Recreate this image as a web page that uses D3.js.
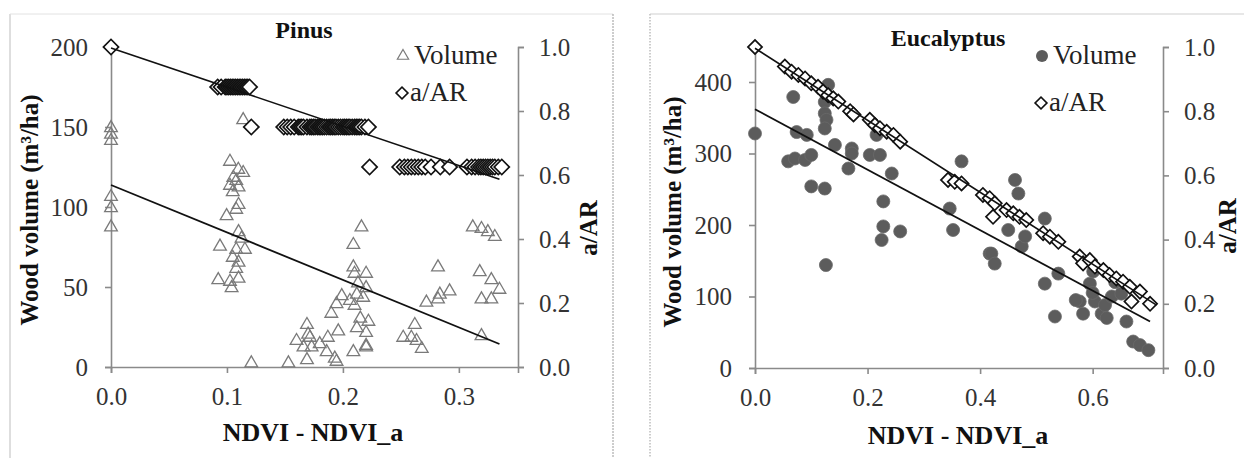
<!DOCTYPE html>
<html>
<head>
<meta charset="utf-8">
<script src="https://cdn.jsdelivr.net/npm/d3@7"></script>
<style>
  body { margin: 0; background: #fff; }
  svg text { font-family: "Liberation Serif", "LiberationSerif", "Tinos", "Times New Roman", Times, "DejaVu Serif", serif !important; }
</style>
</head>
<body>
<svg id="chart" width="1244" height="458"></svg>
<script>
// ---- Pinus ----
const pinusVolX = [0, 0, 0, 0, 0, 0,
  0.1026, 0.1098, 0.114, 0.1055, 0.108, 0.1026, 0.11, 0.105, 0.11, 0.108, 0.0997, 0.11, 0.1126, 0.094,
  0.108, 0.1155, 0.105, 0.11, 0.108, 0.0925, 0.1026, 0.11, 0.104, 0.114, 0.121,
  0.153, 0.16, 0.169, 0.17, 0.166, 0.173, 0.169, 0.1716, 0.18, 0.187, 0.186, 0.193, 0.1945, 0.196,
  0.19, 0.1945, 0.199, 0.206, 0.209, 0.21, 0.209, 0.216, 0.213, 0.22, 0.22, 0.212, 0.2175, 0.21,
  0.215, 0.222, 0.212, 0.22, 0.209, 0.22, 0.22,
  0.312, 0.3195, 0.325, 0.331, 0.282, 0.318, 0.328, 0.335, 0.292, 0.2836, 0.282, 0.272, 0.3195, 0.328,
  0.262, 0.252, 0.259, 0.2635, 0.268, 0.3195];
const pinusVolY = [150, 146, 142, 107, 100, 88,
  129, 124, 122, 119, 117, 114, 113, 110, 102, 99, 95, 85, 81, 76,
  74, 74, 69, 66, 62, 55, 54, 56, 50, 155, 3,
  3, 17, 27, 21, 13, 13, 5, 19, 15, 19, 10, 6, 4, 23,
  34, 40, 45, 42, 63, 59, 77, 88, 53, 59, 50, 46, 44, 39,
  31, 29, 25, 22, 10, 14, 13,
  88, 87, 85, 82, 63, 60, 55, 49, 48, 46, 43, 41, 43, 43,
  27, 19, 19, 17, 12, 20];
const pinusRatioX = [0,
  0.092, 0.095, 0.0985, 0.100, 0.1015, 0.103, 0.1045, 0.106, 0.1075, 0.109, 0.1105, 0.112, 0.1135, 0.115, 0.1165, 0.118, 0.1195,
  0.121, 0.149, 0.152, 0.155, 0.158, 0.1615, 0.163, 0.1645, 0.166, 0.169, 0.1715, 0.173, 0.1745, 0.176, 0.178,
  0.1795, 0.181, 0.1825, 0.184, 0.186, 0.188, 0.1895, 0.191, 0.1925, 0.194, 0.196, 0.198, 0.2,
  0.2015, 0.203, 0.2045, 0.206, 0.208, 0.21, 0.2115, 0.213, 0.2145, 0.216, 0.219, 0.222,
  0.223, 0.249, 0.253, 0.256, 0.259, 0.262, 0.265, 0.268, 0.271, 0.276, 0.284, 0.292,
  0.307, 0.311, 0.314, 0.317, 0.319, 0.321, 0.323, 0.325, 0.327, 0.329, 0.331, 0.334, 0.337];
const pinusRatioY = [1.0,
  0.875, 0.875, 0.875, 0.875, 0.875, 0.875, 0.875, 0.875, 0.875, 0.875, 0.875, 0.875, 0.875, 0.875, 0.875, 0.875, 0.875,
  0.75, 0.75, 0.75, 0.75, 0.75, 0.75, 0.75, 0.75, 0.75, 0.75, 0.75, 0.75, 0.75, 0.75, 0.75,
  0.75, 0.75, 0.75, 0.75, 0.75, 0.75, 0.75, 0.75, 0.75, 0.75, 0.75, 0.75, 0.75,
  0.75, 0.75, 0.75, 0.75, 0.75, 0.75, 0.75, 0.75, 0.75, 0.75, 0.75, 0.75,
  0.625, 0.625, 0.625, 0.625, 0.625, 0.625, 0.625, 0.625, 0.625, 0.625, 0.625, 0.625,
  0.625, 0.625, 0.625, 0.625, 0.625, 0.625, 0.625, 0.625, 0.625, 0.625, 0.625, 0.625, 0.625];
const pinusVolFit = [[0, 113.75], [0.335, 14.4]];
const pinusRatioFit = [[0, 0.997], [0.335, 0.587]];

// ---- Eucalyptus ----
const eucVolX = [0, 0.068, 0.13, 0.124, 0.124, 0.127, 0.124, 0.074, 0.092, 0.059, 0.071, 0.089, 0.1,
  0.1, 0.124, 0.142, 0.172, 0.172, 0.166, 0.204, 0.222, 0.243, 0.228, 0.228, 0.225, 0.258, 0.126,
  0.216, 0.367, 0.346, 0.352, 0.417,
  0.462, 0.468, 0.42, 0.426, 0.45, 0.474, 0.48, 0.515, 0.539, 0.515, 0.533, 0.577, 0.583, 0.595,
  0.604, 0.616, 0.625, 0.601, 0.622, 0.634, 0.66, 0.672, 0.684, 0.699, 0.651, 0.64, 0.6, 0.57];
const eucVolY = [328, 379, 396, 372, 356, 347, 335, 330, 326, 289, 293, 291, 298,
  254, 251, 312, 307, 300, 279, 298, 298, 272, 233, 198, 179, 191, 144,
  326, 289, 223, 193, 160,
  263, 244, 160, 146, 193, 170, 184, 209, 132, 118, 72, 93, 76, 118,
  93, 76, 70, 135, 88, 100, 65, 37, 32, 25, 104, 120, 105, 95];
const eucRatioX = [0, 0.053, 0.065, 0.077, 0.089, 0.1, 0.112, 0.121, 0.13, 0.139, 0.148, 0.169, 0.175,
  0.204, 0.213, 0.222, 0.234, 0.246, 0.258, 0.343, 0.355, 0.367,
  0.405, 0.417, 0.426, 0.423, 0.447, 0.459, 0.47, 0.482, 0.512, 0.524, 0.539,
  0.577, 0.583, 0.595, 0.604, 0.619, 0.63, 0.642, 0.654, 0.666, 0.684, 0.702, 0.669];
const eucRatioY = [1.0, 0.939, 0.923, 0.913, 0.902, 0.887, 0.876, 0.861, 0.85, 0.84, 0.83, 0.8, 0.79,
  0.773, 0.757, 0.747, 0.736, 0.726, 0.705, 0.586, 0.58, 0.575,
  0.539, 0.529, 0.513, 0.471, 0.492, 0.482, 0.471, 0.461, 0.42, 0.409, 0.393,
  0.347, 0.326, 0.336, 0.316, 0.305, 0.29, 0.279, 0.269, 0.253, 0.238, 0.2, 0.207];
const eucVolFit = [[0, 362], [0.702, 65]];
const eucRatioFit = [[0, 0.996], [0.7135, 0.196]];

// ---- ticks ----
const pinusXTicks = [0, 0.1, 0.2, 0.3];
const pinusVolTicks = [0, 50, 100, 150, 200];
const eucXTicks = [0, 0.2, 0.4, 0.6];
const eucVolTicks = [0, 100, 200, 300, 400];
const ratioTicks = [0, 0.2, 0.4, 0.6, 0.8, 1.0];

const svg = d3.select("#chart");
const axisColor = "#8a8a8a";
const serif = "'Liberation Serif', 'Tinos', 'Times New Roman', Times, 'DejaVu Serif', serif";

// panel frames
svg.append("line").attr("x1", 10).attr("x2", 10).attr("y1", 14).attr("y2", 458).attr("stroke", "#bdbdbd");
svg.append("line").attr("x1", 10).attr("x2", 613).attr("y1", 14).attr("y2", 14).attr("stroke", "#e2e2e2");
svg.append("line").attr("x1", 613).attr("x2", 613).attr("y1", 14).attr("y2", 458)
  .attr("stroke", "#9a9a9a").attr("stroke-dasharray", "2,1");
svg.append("line").attr("x1", 650).attr("x2", 650).attr("y1", 14).attr("y2", 458)
  .attr("stroke", "#9a9a9a").attr("stroke-dasharray", "1.5,1.5");
svg.append("line").attr("x1", 650).attr("x2", 1244).attr("y1", 14).attr("y2", 14).attr("stroke", "#cfcfcf");

function styleAxis(g) {
  g.attr("font-family", serif);
  g.selectAll("path, line").attr("stroke", axisColor).attr("stroke-width", 1.6);
  g.selectAll("text").attr("fill", "#333").style("font-size", "25px").style("font-family", serif);
}

function drawPanel(p) {
  const x = d3.scaleLinear().domain(p.xDomain).range(p.xRange);
  const yL = d3.scaleLinear().domain(p.yLDomain).range(p.yRange);
  const yR = d3.scaleLinear().domain([0, 1]).range([p.yRange[0], p.yR1]);
  const fmt1 = d3.format(".1f");

  svg.append("g").attr("transform", `translate(0,${p.yRange[0]})`)
    .call(d3.axisBottom(x).tickValues(p.xTicks).tickFormat(fmt1).tickSizeOuter(0).tickSize(6).tickPadding(14))
    .call(styleAxis);
  svg.append("g").attr("transform", `translate(${p.xRange[0]},0)`)
    .call(d3.axisLeft(yL).tickValues(p.yLTicks).tickFormat(d3.format("d")).tickSizeOuter(0).tickSize(6).tickPadding(17))
    .call(styleAxis);
  svg.append("g").attr("transform", `translate(${p.xRange[1]},0)`)
    .call(d3.axisRight(yR).tickValues(ratioTicks).tickFormat(fmt1).tickSizeOuter(0).tickSize(6).tickPadding(15))
    .call(styleAxis);

  // volume points
  if (p.volShape === "triangle") {
    const tri = d3.symbol().type(d3.symbolTriangle).size(70);
    svg.append("g").selectAll("path").data(d3.zip(p.volX, p.volY)).join("path")
      .attr("d", tri)
      .attr("transform", d => `translate(${x(d[0])},${yL(d[1]) + 1})`)
      .attr("fill", "none").attr("stroke", "#7a7a7a").attr("stroke-width", 1.3);
  } else {
    svg.append("g").selectAll("circle").data(d3.zip(p.volX, p.volY)).join("circle")
      .attr("cx", d => x(d[0])).attr("cy", d => yL(d[1])).attr("r", 6.5)
      .attr("fill", "#5c5c5c").attr("stroke", "#6a6a6a").attr("stroke-width", 0.8);
  }

  // a/AR points
  const dia = d3.symbol().type(d3.symbolSquare).size(p.diaSize);
  svg.append("g").selectAll("path").data(d3.zip(p.ratioX, p.ratioY)).join("path")
    .attr("d", dia)
    .attr("transform", d => `translate(${x(d[0])},${yR(d[1])}) rotate(45)`)
    .attr("fill", "#fff").attr("stroke", "#111").attr("stroke-width", 1.7);

  // fitted lines
  svg.append("line")
    .attr("x1", x(p.volFit[0][0])).attr("y1", yL(p.volFit[0][1]))
    .attr("x2", x(p.volFit[1][0])).attr("y2", yL(p.volFit[1][1]))
    .attr("stroke", "#111").attr("stroke-width", 1.8);
  svg.append("line")
    .attr("x1", x(p.ratioFit[0][0])).attr("y1", yR(p.ratioFit[0][1]))
    .attr("x2", x(p.ratioFit[1][0])).attr("y2", yR(p.ratioFit[1][1]))
    .attr("stroke", "#111").attr("stroke-width", 1.6);

  // title
  svg.append("text").attr("x", p.titleX).attr("y", p.titleY).attr("text-anchor", "middle")
    .style("font-size", "24px").style("font-weight", "bold").attr("fill", "#111").text(p.title);

  // axis titles
  svg.append("text").attr("x", p.xLabelX).attr("y", p.xLabelY).attr("text-anchor", "middle")
    .style("font-size", "26px").style("font-weight", "bold").attr("fill", "#111").text("NDVI - NDVI_a");
  svg.append("text").attr("transform", `translate(${p.yLabelX},${p.yLabelY}) rotate(-90)`)
    .attr("text-anchor", "middle")
    .style("font-size", "25px").style("font-weight", "bold").attr("fill", "#111")
    .text("Wood volume (m³/ha)");
  svg.append("text").attr("transform", `translate(${p.rLabelX},${p.rLabelY}) rotate(-90)`)
    .attr("text-anchor", "middle")
    .style("font-size", "25px").style("font-weight", "bold").attr("fill", "#111").text("a/AR");

  // legend
  const lg = svg.append("g").attr("transform", `translate(${p.legendX},${p.legendY})`);
  if (p.volShape === "triangle") {
    lg.append("path").attr("d", d3.symbol().type(d3.symbolTriangle).size(55))
      .attr("transform", "translate(6,0)").attr("fill", "none").attr("stroke", "#7a7a7a").attr("stroke-width", 1.2);
  } else {
    lg.append("circle").attr("cx", 6).attr("cy", 0).attr("r", 6).attr("fill", "#5c5c5c");
  }
  lg.append("text").attr("x", 17).attr("y", 8).style("font-size", "27px").attr("fill", "#222").text("Volume");
  lg.append("path").attr("d", d3.symbol().type(d3.symbolSquare).size(70))
    .attr("transform", `translate(5,${p.legendGap}) rotate(45)`)
    .attr("fill", "#fff").attr("stroke", "#111").attr("stroke-width", 1.6);
  lg.append("text").attr("x", 13).attr("y", p.legendGap + 8).style("font-size", "27px").attr("fill", "#222").text("a/AR");
}

drawPanel({
  xDomain: [0, 0.351], xRange: [111, 518], yLDomain: [0, 200], yRange: [367, 47], yR1: 47,
  xTicks: pinusXTicks, yLTicks: pinusVolTicks,
  volShape: "triangle", volX: pinusVolX, volY: pinusVolY,
  ratioX: pinusRatioX, ratioY: pinusRatioY, diaSize: 115,
  volFit: pinusVolFit, ratioFit: pinusRatioFit,
  title: "Pinus", titleX: 304, titleY: 38,
  xLabelX: 313, xLabelY: 441, yLabelX: 38, yLabelY: 210, rLabelX: 597, rLabelY: 228,
  legendX: 397, legendY: 56, legendGap: 37
});

drawPanel({
  xDomain: [0, 0.725], xRange: [755, 1163], yLDomain: [0, 450], yRange: [368, 46.25], yR1: 47,
  xTicks: eucXTicks, yLTicks: eucVolTicks,
  volShape: "circle", volX: eucVolX, volY: eucVolY,
  ratioX: eucRatioX, ratioY: eucRatioY, diaSize: 100,
  volFit: eucVolFit, ratioFit: eucRatioFit,
  title: "Eucalyptus", titleX: 948, titleY: 46,
  xLabelX: 958, xLabelY: 444, yLabelX: 681, yLabelY: 212, rLabelX: 1236, rLabelY: 226,
  legendX: 1036, legendY: 56, legendGap: 47
});
</script>
</body>
</html>
